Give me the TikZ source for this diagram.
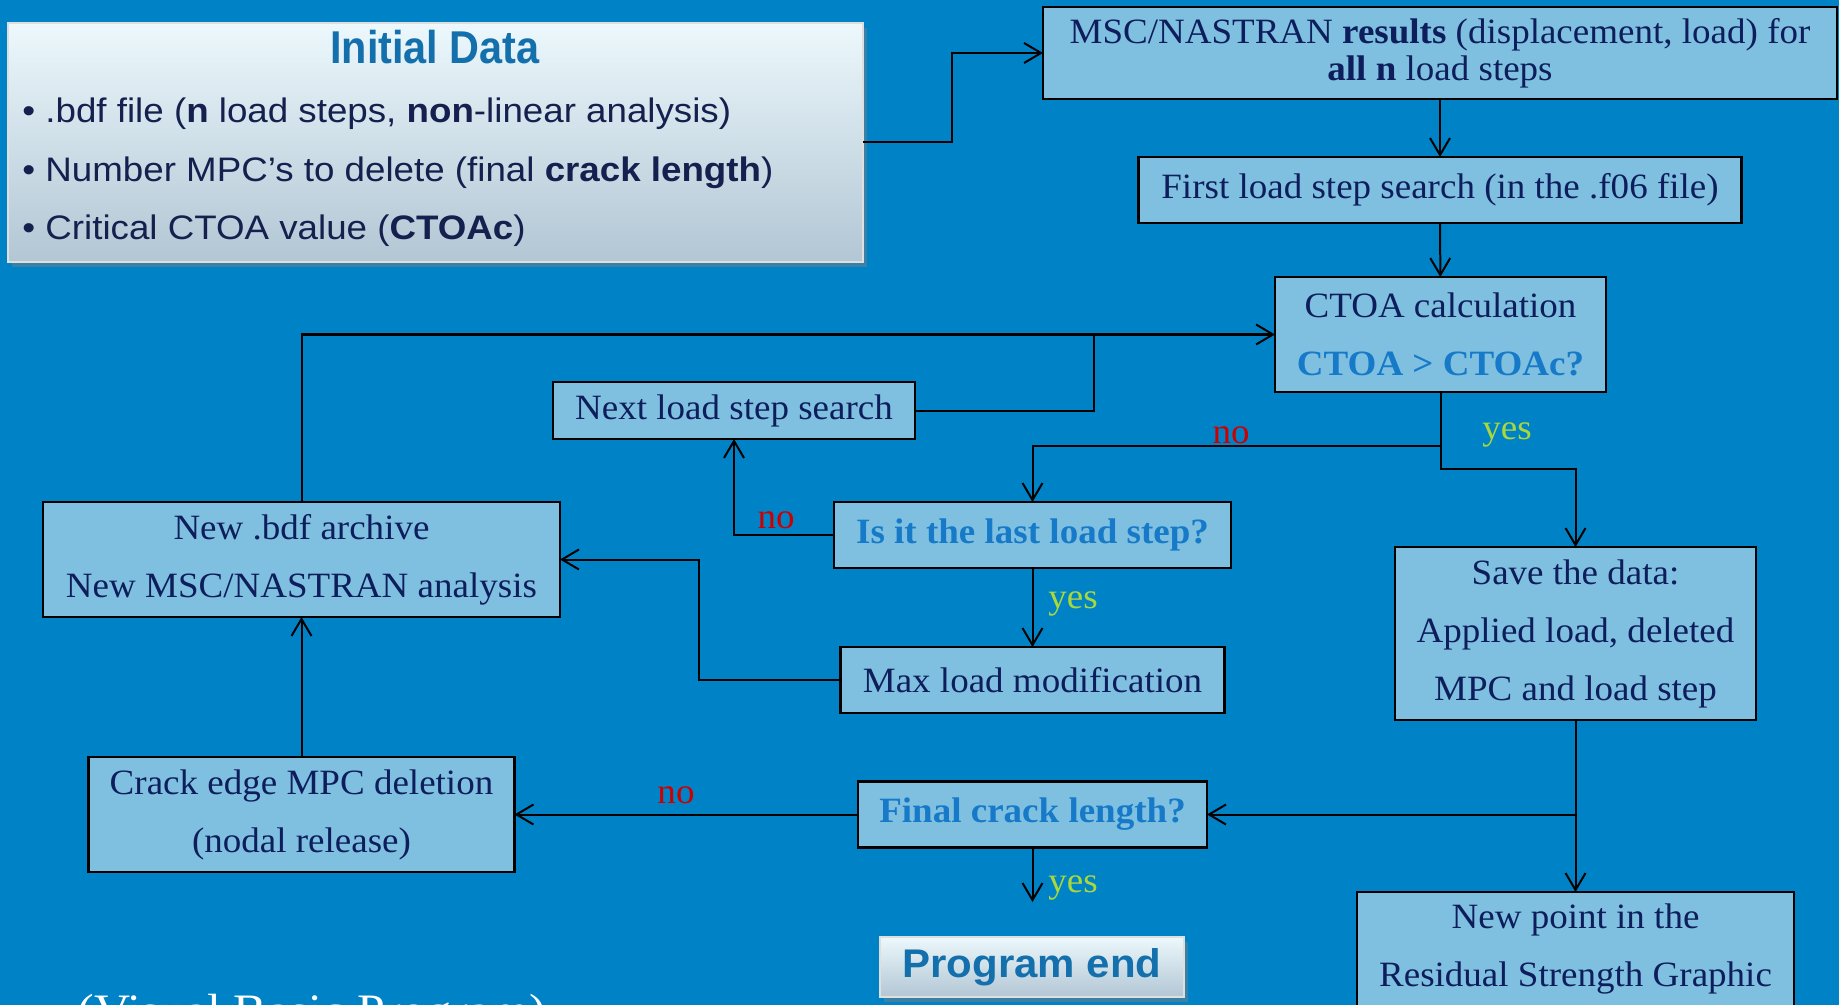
\documentclass[tikz,border=0pt]{standalone}
\usepackage{fontspec}
\setmainfont{Liberation Serif}[FakeStretch=1.04]
\newfontfamily\sansS{Liberation Sans}[FakeStretch=1.08]
\newfontfamily\sansP{Liberation Sans}[FakeStretch=1.05]
\newfontfamily\sansT{Liberation Sans}[FakeStretch=0.9]
\usetikzlibrary{arrows.meta,shadows}
\definecolor{bg}{RGB}{0,131,198}
\definecolor{boxfill}{RGB}{127,192,225}
\definecolor{navy}{RGB}{14,30,92}
\definecolor{qblue}{RGB}{22,122,200}
\definecolor{nored}{RGB}{205,0,0}
\definecolor{yesgreen}{RGB}{170,215,60}
\definecolor{glosstop}{RGB}{236,248,252}
\definecolor{glossbot}{RGB}{178,198,212}
\definecolor{titleblue}{RGB}{20,112,172}
\definecolor{bullettext}{RGB}{22,32,78}
\begin{document}
\begin{tikzpicture}[x=0.5pt,y=-0.5pt,
  box/.style={draw=black, line width=1.3pt, fill=boxfill, text=navy,
    font=\fontsize{17.8}{29}\selectfont, align=center, inner sep=0pt, outer sep=0pt},
  conn/.style={line width=1pt, -{Straight Barb[length=8.5pt,width=10pt,line width=1pt]}},
  plain/.style={line width=1pt},
  gloss/.style={draw=white!75!gray, line width=0.6pt, top color=glosstop, bottom color=glossbot,
    drop shadow={shadow xshift=2pt, shadow yshift=-2.5pt, opacity=0.45}, inner sep=0pt, outer sep=0pt},
  nolbl/.style={text=nored, font=\fontsize{17.8}{20}\selectfont, anchor=base, inner sep=0pt},
  yeslbl/.style={text=yesgreen, font=\fontsize{17.8}{20}\selectfont, anchor=base, inner sep=0pt},
  bullet/.style={text=bullettext, font=\sansS\fontsize{17}{20}\selectfont, anchor=base west, inner sep=0pt}
]
\useasboundingbox (0,0) rectangle (1839,1005);
\clip (0,0) rectangle (1839,1005);
\fill[bg] (0,0) rectangle (1839,1005);

% Initial data panel
\node[gloss, minimum width=427.5pt, minimum height=119.5pt] (init) at (435.5,142.5) {};
\node[text=titleblue, font=\sansT\bfseries\fontsize{23}{26}\selectfont, anchor=base, inner sep=0pt] (inittitle) at (435,64) {Initial Data};
\node[bullet] (b1t) at (22,123) {• .bdf file (\textbf{n} load steps, \textbf{non}-linear analysis)};
\node[bullet] (b2t) at (22,182) {• Number MPC’s to delete (final \textbf{crack length})};
\node[bullet] (b3t) at (22,240) {• Critical CTOA value (\textbf{CTOAc})};

% Boxes
\node[box, minimum width=397pt, minimum height=46pt, font=\fontsize{17.8}{18.5}\selectfont] (msc) at (1440,53)
  {MSC/NASTRAN \textbf{results} (displacement, load) for\\ \textbf{all n} load steps};
\node[box, minimum width=301.5pt, minimum height=33pt] (first) at (1440,190)
  {First load step search (in the .f06 file)};
\node[box, minimum width=165.5pt, minimum height=57.5pt] (ctoa) at (1440.5,334.5)
  {CTOA calculation\\ \textcolor{qblue}{\textbf{CTOA > CTOAc?}}};
\node[box, minimum width=181pt, minimum height=28.5pt] (next) at (734,410.5)
  {Next load step search};
\node[box, minimum width=258.5pt, minimum height=57.5pt] (newbdf) at (301.5,559.5)
  {New .bdf archive\\ New MSC/NASTRAN analysis};
\node[box, minimum width=198.5pt, minimum height=33pt, text=qblue, font=\bfseries\fontsize{17.8}{20}\selectfont] (isit) at (1032.5,535)
  {Is it the last load step?};
\node[box, minimum width=192pt, minimum height=33pt] (maxl) at (1032.5,680)
  {Max load modification};
\node[box, minimum width=180.5pt, minimum height=86.5pt] (save) at (1575.5,633.5)
  {Save the data:\\ Applied load, deleted\\ MPC and load step};
\node[box, minimum width=213pt, minimum height=57.5pt] (crack) at (301.5,814.5)
  {Crack edge MPC deletion\\ (nodal release)};
\node[box, minimum width=174.5pt, minimum height=33pt, text=qblue, font=\bfseries\fontsize{17.8}{20}\selectfont] (final) at (1032.5,814.5)
  {Final crack length?};
\node[box, minimum width=218.5pt, minimum height=57pt] (newpt) at (1575.5,949)
  {New point in the\\ Residual Strength Graphic};
\node[gloss, minimum width=152pt, minimum height=30pt, text=titleblue, font=\sansP\bfseries\fontsize{20}{22}\selectfont] (progend) at (1032,967)
  {Program end};

\node[text=white, font=\fontsize{24}{26}\selectfont, anchor=base west, inner sep=0pt] (vbp) at (77,1027) {(Visual Basic Program)};

% junction coordinates
\coordinate (j1) at (1094,334.5);
\coordinate (br1) at (1440.5,446);
\coordinate (br2) at (1440.5,469);
\coordinate (k1) at (699,680);
\coordinate (s1) at (1575.5,814.5);
\coordinate (e1) at (1032.5,902);

% connectors
\draw[conn] (init.east) -- ++(89,0) |- (msc.west);
\draw[conn] (msc) -- (first);
\draw[conn] (first) -- (ctoa);
\draw[conn] (newbdf.north) |- (ctoa.west);
\draw[plain] (next.east) -| (j1);
\draw[plain] (ctoa.south) -- (br1);
\draw[conn] (br1) -| (isit.north);
\draw[conn] (br1) -- (br2) -| (save.north);
\draw[conn] (isit.west) -| (next.south);
\draw[conn] (isit) -- (maxl);
\draw[conn] (maxl.west) -- (k1) |- (newbdf.east);
\draw[conn] (save) -- (newpt);
\draw[conn] (s1) -- (final.east);
\draw[conn] (final.west) -- (crack.east);
\draw[conn] (crack) -- (newbdf);
\draw[conn] (final.south) -- (e1);

% labels
\node[nolbl] (no1) at (1231,443) {no};
\node[yeslbl] (yes1) at (1507,439) {yes};
\node[nolbl] (no2) at (776,528) {no};
\node[yeslbl] (yes2) at (1073,608) {yes};
\node[nolbl] (no3) at (676,803) {no};
\node[yeslbl] (yes3) at (1073,892) {yes};
\end{tikzpicture}
\end{document}
